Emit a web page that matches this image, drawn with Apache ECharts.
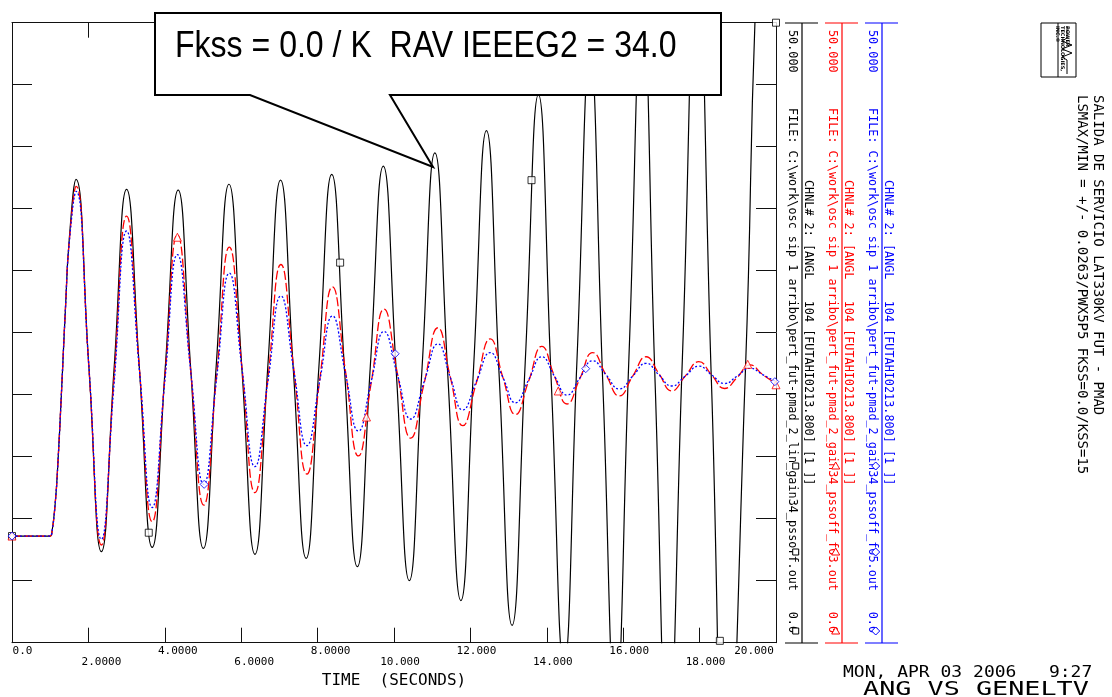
<!DOCTYPE html>
<html><head><meta charset="utf-8">
<script src="https://cdn.jsdelivr.net/npm/echarts@6/dist/echarts.min.js"></script>
<style>html,body{margin:0;padding:0;background:#fff}#c{width:1112px;height:697px}</style>
</head><body><div id="c"></div><script>
// ---------- DATA ----------
const xTickLabels = ['0.0','2.0000','4.0000','6.0000','8.0000','10.000','12.000','14.000','16.000','18.000','20.000'];

const timeBlack = [0,1.0,1.04,1.13,1.2,1.3,1.4,1.5,1.675,2.01,2.34,2.67,3.0,3.335,3.67,4.01,4.35,4.68,5.01,5.345,5.68,6.02,6.36,6.695,7.03,7.365,7.70,8.035,8.37,8.705,9.04,9.38,9.72,10.06,10.40,10.735,11.07,11.41,11.75,12.085,12.42,12.755,13.09,13.435,13.78,14.115,14.45,14.79,15.13,15.465,15.8,16.15,16.5,16.835,17.17,17.55,17.93,18.31,18.69,19.2,19.5,20.0];
const valBlack  = [8.6,8.6,8.8,11.2,14.4,20.5,27.0,32.6,37.37,22.4,7.34,22.0,36.56,22.1,7.69,22.1,36.5,22.0,7.6,22.3,36.97,22.0,7.13,22.2,37.3,22.0,6.8,22.3,37.77,22.0,6.13,22.3,38.44,21.8,5.0,22.2,39.5,21.5,3.4,22.3,41.3,21.4,1.4,22.6,44.2,21.2,-1.8,22.8,47.4,21.0,-5.0,23.0,51.5,21.0,-8.5,23.0,56.0,21.0,-14.0,22.0,54.0,80.0];

const timeRB = [0,1.0,1.04,1.13,1.2,1.3,1.4,1.5,1.68,2.01,2.34,2.67,3.0,3.335,3.67,4.0,4.33,4.675,5.02,5.355,5.69,6.025,6.36,6.7,7.04,7.38,7.72,8.055,8.39,8.73,9.07,9.405,9.74,10.09,10.44,10.795,11.15,11.475,11.8,12.16,12.52,12.85,13.18,13.525,13.87,14.2,14.53,14.865,15.2,15.55,15.9,16.25,16.6,16.935,17.27,17.625,17.98,18.315,18.65,18.985,19.32,19.66,20.0];
const valRed  = [8.6,8.6,8.8,11.2,14.4,20.5,27.0,32.4,36.8,22.3,7.88,21.3,34.4,22.1,9.76,21.3,32.9,22.0,11.1,21.5,31.9,22.0,12.1,21.3,30.5,22.0,13.6,21.2,28.7,21.9,15.06,21.0,26.9,21.7,16.5,21.0,25.4,21.4,17.5,21.0,24.5,21.4,18.4,21.1,23.9,21.5,19.25,21.3,23.4,21.6,19.9,21.5,23.06,21.7,20.3,21.5,22.66,21.6,20.5,21.4,22.4,21.6,20.9];
const valBlue = [8.6,8.6,8.8,11.2,14.4,20.5,27.0,32.3,36.4,22.4,8.34,20.8,33.2,22.0,10.9,21.1,31.3,22.0,12.77,21.3,29.8,22.0,14.2,21.1,27.96,21.9,15.9,21.1,26.35,21.7,17.07,21.1,25.1,21.6,18.04,21.1,24.1,21.4,18.77,21.1,23.4,21.4,19.35,21.2,23.06,21.5,19.97,21.35,22.74,21.6,20.46,21.5,22.53,21.6,20.7,21.5,22.3,21.6,20.9,21.5,22.13,21.6,21.05];

const markBlackT = [0,3.58,8.59,13.6,18.53,20];
const markBlackV = [8.6,8.87,30.65,37.3,0.15,50];
const markRedT = [0,4.33,9.28,14.3,19.26,20];
const markRedV = [8.6,32.7,18.2,20.3,22.45,20.8];
const markBlueT = [0,5.03,10.03,15.02,19.97];
const markBlueV = [8.6,12.77,23.3,22.1,21.05];

const legendFiles = [
  'FILE: C:\\work\\osc sip 1 arribo\\pert_fut-pmad_2_lin_gain34_pssoff.out',
  'FILE: C:\\work\\osc sip 1 arribo\\pert_fut-pmad_2_gain34_pssoff_f03.out',
  'FILE: C:\\work\\osc sip 1 arribo\\pert_fut-pmad_2_gain34_pssoff_f05.out'
];
const legendChannel = 'CHNL# 2: [ANGL   104 [FUTAHI0213.800] [1 ]]';
const legendMax = '50.000';
const legendMin = '0.0';
const headerLines = ['SALIDA DE SERVICIO LAT330KV FUT - PMAD','LSMAX/MIN = +/- 0.0263/PWX5P5 FKSS=0.0/KSS=15'];
const annotation = 'Fkss = 0.0 / K  RAV IEEEG2 = 34.0';
const dateText = 'MON, APR 03 2006   9:27';
const plotTitle = 'ANG VS GENELTV';
const xName = 'TIME  (SECONDS)';

// ---------- CHART ----------
const mono = "'DejaVu Sans Mono', 'Liberation Mono', monospace";
const chart = echarts.init(document.getElementById('c'), null, {renderer:'canvas'});
const zip = (a,b) => a.map((t,i)=>[t,b[i]]);

const lblStyle = (pt, pl, pr) => ({fontFamily: mono, fontSize: 11, color:'#000', padding:[pt,pr,0,pl]});
const rich = {
  z1: lblStyle(0,21,0),
  a1: lblStyle(0,26,0), a2: lblStyle(11,26,0),
  b1: lblStyle(0,12,0), b2: lblStyle(11,12,0),
  c1: lblStyle(0,0,44)
};

function rotText(text, x, y, color, size, align, family) {
  return {type:'text', x:x, y:y, rotation:-Math.PI/2, z:100,
    style:{text:text, fill:color, font: size+'px '+(family||mono), align: align||'left', verticalAlign:'middle'}};
}
function hline(x1,x2,y,color,w){return {type:'line', z:100, shape:{x1:x1,y1:y,x2:x2,y2:y}, style:{stroke:color, lineWidth:w||1}};}
function vline(x,y1,y2,color,w){return {type:'line', z:100, shape:{x1:x,y1:y1,x2:x,y2:y2}, style:{stroke:color, lineWidth:w||1}};}

const graphics = [];
// annotation callout
graphics.push({type:'polygon', z:110, shape:{points:[[155,13],[721,13],[721,95],[390,95],[433,167],[250,95],[155,95]]},
  style:{fill:'#fff', stroke:'#000', lineWidth:2}});
graphics.push({type:'text', z:111, x:175, y:47, scaleX:0.89,
  style:{text:annotation, fill:'#000', font:"36px 'Liberation Sans', Arial, sans-serif", align:'left', verticalAlign:'middle'}});

// legend columns
const cols = [
  {color:'#000000', line:802, left:791.7, right:808, mk:'rect'},
  {color:'#ff0000', line:842, left:831.7, right:848, mk:'tri'},
  {color:'#0000ff', line:882, left:871.7, right:888, mk:'dia'}
];
cols.forEach((c,i)=>{
  graphics.push(vline(c.line,23,643,c.color,1.2));
  graphics.push(hline(c.line-17,c.line+16,23,c.color,1.2));
  graphics.push(hline(c.line-17,c.line+16,643,c.color,1.2));
  graphics.push(rotText(legendMax, c.left, 30, c.color, 11.8, 'left'));
  graphics.push(rotText(legendFiles[i], c.left, 108, c.color, 11.8, 'left'));
  graphics.push(rotText(legendMin, c.left, 633, c.color, 11.8, 'right'));
  graphics.push(rotText(legendChannel, c.right, 180, c.color, 11.8, 'left'));
  [466, 552, 631].forEach(y=>{
    const x = c.left + 4;
    if (c.mk==='rect') graphics.push({type:'rect', z:105, shape:{x:x-3,y:y-3,width:6,height:6}, style:{fill:'#fff', stroke:c.color, lineWidth:1}});
    else if (c.mk==='tri') graphics.push({type:'polygon', z:105, shape:{points:[[x,y-4],[x+4,y+3],[x-4,y+3]]}, style:{fill:'#fff', stroke:c.color, lineWidth:1}});
    else graphics.push({type:'polygon', z:105, shape:{points:[[x,y-4],[x+4,y],[x,y+4],[x-4,y]]}, style:{fill:'#fff', stroke:c.color, lineWidth:1}});
  });
});

// header text
graphics.push(rotText(headerLines[0], 1098, 95, '#000', 14, 'left'));
graphics.push(rotText(headerLines[1], 1082, 95, '#000', 14, 'left'));
// logo
graphics.push({type:'rect', z:100, shape:{x:1041,y:23,width:35,height:54}, style:{fill:'#fff', stroke:'#000', lineWidth:1}});
graphics.push(vline(1058,23,77,'#000',1));
graphics.push({type:'polyline', z:100, shape:{points:[[1067,26],[1067,38],[1062,41],[1072,45],[1062,49],[1072,53],[1062,57],[1067,60],[1067,74]]}, style:{stroke:'#000', lineWidth:1, fill:null}});
graphics.push({type:'text', z:100, x:1055, y:26, rotation:-Math.PI/2,
  style:{text:'POWER\nTECHNOLOGIES,\nINC.®', fill:'#000', font:"bold 5px 'DejaVu Sans'", align:'left', verticalAlign:'bottom', lineHeight:5}});

// bottom-right texts
graphics.push({type:'text', z:100, x:843, y:673, scaleX:1.2,
  style:{text:dateText, fill:'#000', font:'15px '+mono, align:'left', verticalAlign:'middle'}});
graphics.push({type:'text', z:100, x:863, y:690, scaleX:1.34,
  style:{text:plotTitle, fill:'#000', font:'20px '+mono, align:'left', verticalAlign:'middle'}});

const axisCol = '#111';
const option = {
  animation:false,
  backgroundColor:'#fff',
  grid:{left:12, top:22.7, width:764, height:620, containLabel:false},
  xAxis:[
    {type:'value', min:0, max:20, interval:2, position:'bottom',
     axisLine:{show:true, onZero:false, lineStyle:{color:axisCol, width:1}},
     axisTick:{show:true, inside:true, length:15, lineStyle:{color:axisCol}},
     splitLine:{show:false},
     axisLabel:{show:true, interval:0, margin:3, showMinLabel:true, showMaxLabel:true, hideOverlap:false,
       formatter:(v)=>{const i=Math.round(v/2); const s=xTickLabels[i];
         let key; if(i===0) key='z1'; else if(i===10) key='c1'; else if(i<5) key=(i%2?'a2':'a1'); else key=(i%2?'b2':'b1');
         return '{'+key+'|'+s+'}';}, rich:rich},
     name:xName, nameLocation:'middle', nameGap:30,
     nameTextStyle:{fontFamily:mono, fontSize:16, color:'#000'}},
    {type:'value', min:0, max:20, interval:2, position:'top',
     axisLine:{show:true, onZero:false, lineStyle:{color:axisCol, width:1}},
     axisTick:{show:true, inside:true, length:15, lineStyle:{color:axisCol}},
     splitLine:{show:false}, axisLabel:{show:false}}
  ],
  yAxis:[
    {type:'value', min:0, max:50, interval:5, position:'left',
     axisLine:{show:true, onZero:false, lineStyle:{color:axisCol, width:1}},
     axisTick:{show:true, inside:true, length:20, lineStyle:{color:axisCol}},
     splitLine:{show:false}, axisLabel:{show:false}},
    {type:'value', min:0, max:50, interval:5, position:'right',
     axisLine:{show:true, onZero:false, lineStyle:{color:axisCol, width:1}},
     axisTick:{show:true, inside:true, length:20, lineStyle:{color:axisCol}},
     splitLine:{show:false}, axisLabel:{show:false}}
  ],
  series:[
    {type:'line', name:'black', data:zip(timeBlack,valBlack), smooth:0.5, showSymbol:false, clip:true,
     lineStyle:{color:'#000', width:1.2}, z:2},
    {type:'line', name:'red', data:zip(timeRB,valRed), smooth:0.5, showSymbol:false, clip:true,
     lineStyle:{color:'#ff0000', width:1.3, type:[9,3]}, z:3},
    {type:'line', name:'blue', data:zip(timeRB,valBlue), smooth:0.5, showSymbol:false, clip:true,
     lineStyle:{color:'#0000ff', width:1.3, type:[2,2]}, z:4},
    {type:'scatter', data:zip(markBlackT,markBlackV), symbol:'rect', symbolSize:7, clip:false,
     itemStyle:{color:'#fff', borderColor:'#000', borderWidth:1}, z:5},
    {type:'scatter', data:zip(markRedT,markRedV), symbol:'triangle', symbolSize:8, clip:false,
     itemStyle:{color:'#fff', borderColor:'#ff0000', borderWidth:1}, z:6},
    {type:'scatter', data:zip(markBlueT,markBlueV), symbol:'diamond', symbolSize:8, clip:false,
     itemStyle:{color:'#fff', borderColor:'#0000ff', borderWidth:1}, z:7}
  ],
  graphic:graphics
};
chart.setOption(option);
</script></body></html>
